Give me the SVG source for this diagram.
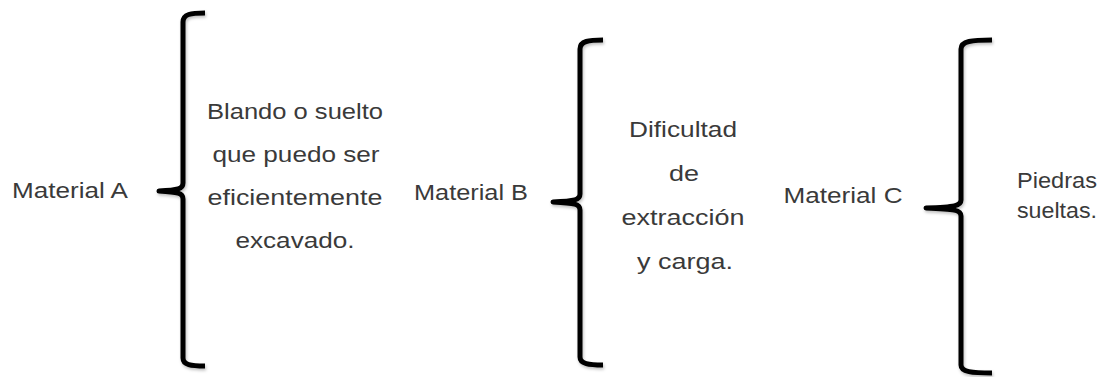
<svg xmlns="http://www.w3.org/2000/svg" width="1102" height="377" viewBox="0 0 1102 377">
<style>
  text { font-family: "Liberation Sans", "DejaVu Sans", sans-serif; font-size: 22px; fill: #3a3a3a; }
  .c { text-anchor: middle; }
  .brace { fill: none; stroke: #000; stroke-width: 5; stroke-linecap: butt; stroke-linejoin: round; filter: url(#sh); }
</style>
<defs>
  <filter id="sh" x="-50%" y="-5%" width="200%" height="110%">
    <feDropShadow dx="1" dy="2" stdDeviation="1.5" flood-color="#000" flood-opacity="0.25"/>
  </filter>
</defs>
<rect width="1102" height="377" fill="#fff"/>
<g id="connectors">
  <path class="brace" d="M205,13 C191,13 183,14 183,22 L183,183 C183,189 178,190 159,191 C178,192 183,193 183,199 L183,358 C183,365 191,366 205,366"/>
  <path class="brace" d="M603,40 C589,40 580,41 580,49 L580,194 C580,200 575,201 553,202 C575,203 580,204 580,210 L580,357 C580,364 589,365 603,365"/>
  <path class="brace" d="M992,40 C972,40 961,41 961,49 L961,200 C961,206 955,207 926,208 C955,209 961,210 961,216 L961,365 C961,372 972,373 992,373"/>
</g>
<g id="material-a">
  <text class="c" x="70" y="198" textLength="116" lengthAdjust="spacingAndGlyphs">Material A</text>
</g>
<g id="desc-a">
  <text class="c" x="295" y="119" textLength="176" lengthAdjust="spacingAndGlyphs">Blando o suelto</text>
  <text class="c" x="296" y="162" textLength="167" lengthAdjust="spacingAndGlyphs">que puedo ser</text>
  <text class="c" x="295" y="205" textLength="175" lengthAdjust="spacingAndGlyphs">eficientemente</text>
  <text class="c" x="295" y="248" textLength="119" lengthAdjust="spacingAndGlyphs">excavado.</text>
</g>
<g id="material-b">
  <text class="c" x="471" y="200" textLength="114" lengthAdjust="spacingAndGlyphs">Material B</text>
</g>
<g id="desc-b">
  <text class="c" x="683" y="137" textLength="108" lengthAdjust="spacingAndGlyphs">Dificultad</text>
  <text class="c" x="684" y="181" textLength="30" lengthAdjust="spacingAndGlyphs">de</text>
  <text class="c" x="683" y="225" textLength="123" lengthAdjust="spacingAndGlyphs">extracción</text>
  <text class="c" x="685" y="269" textLength="96" lengthAdjust="spacingAndGlyphs">y carga.</text>
</g>
<g id="material-c">
  <text class="c" x="843" y="203" textLength="119" lengthAdjust="spacingAndGlyphs">Material C</text>
</g>
<g id="desc-c">
  <text x="1017" y="188" textLength="80" lengthAdjust="spacingAndGlyphs">Piedras</text>
  <text x="1017" y="218" textLength="80" lengthAdjust="spacingAndGlyphs">sueltas.</text>
</g>
</svg>
